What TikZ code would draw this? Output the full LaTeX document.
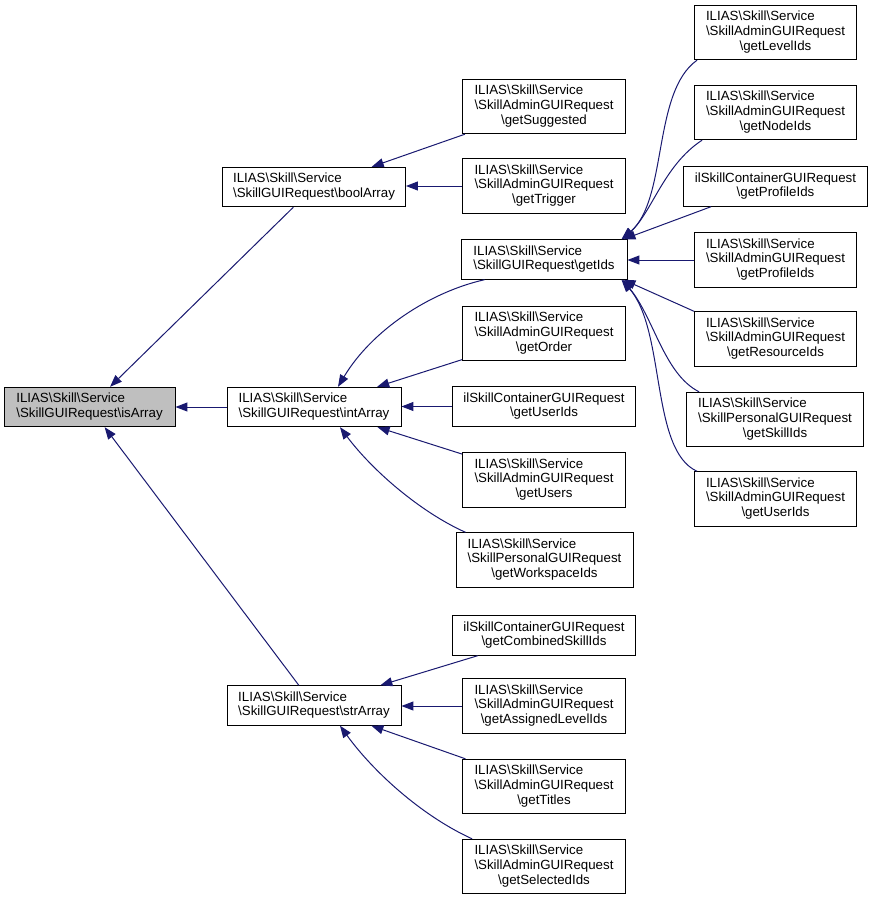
\documentclass[tikz,border=0pt]{standalone}
\usepackage{fontspec}
\setmainfont{Liberation Sans}
\usetikzlibrary{arrows.meta}
\definecolor{edgeblue}{HTML}{191970}
\definecolor{selgray}{HTML}{BFBFBF}
\newcommand{\bsl}{\textbackslash{}}
\newcommand{\dlab}[2]{\begin{tabular}{@{}l@{}}#1\\\multicolumn{1}{@{}c@{}}{#2}\end{tabular}}
\renewcommand{\arraystretch}{1}
\begin{document}
\begin{tikzpicture}[x=1pt,y=-1pt,
  box/.style={draw=black,line width=0.9pt,fill=white,inner sep=0pt,align=center,
    font=\fontsize{13.3}{14.6}\selectfont},
  two/.style={box,minimum height=39.5pt},
  three/.style={box,minimum height=54.5pt},
  edge/.style={draw=edgeblue,line width=1pt,-{Triangle[length=12pt,width=9pt]}}]
\useasboundingbox (0,0) rectangle (872,900);
% left column
\node[two,fill=selgray,minimum width=171pt] (isArray) at (89.5,407) {\dlab{ILIAS\bsl Skill\bsl Service}{\bsl SkillGUIRequest\bsl isArray}};
\node[two,minimum width=183pt] (boolArray) at (314,187) {\dlab{ILIAS\bsl Skill\bsl Service}{\bsl SkillGUIRequest\bsl boolArray}};
\node[two,minimum width=174pt] (intArray) at (314,407) {\dlab{ILIAS\bsl Skill\bsl Service}{\bsl SkillGUIRequest\bsl intArray}};
\node[two,minimum width=174pt] (strArray) at (314,705.5) {\dlab{ILIAS\bsl Skill\bsl Service}{\bsl SkillGUIRequest\bsl strArray}};
% middle column
\node[three,minimum width=163pt] (getSuggested) at (544,106.5) {\dlab{ILIAS\bsl Skill\bsl Service\\\bsl SkillAdminGUIRequest}{\bsl getSuggested}};
\node[three,minimum width=163pt] (getTrigger) at (544,186) {\dlab{ILIAS\bsl Skill\bsl Service\\\bsl SkillAdminGUIRequest}{\bsl getTrigger}};
\node[two,minimum width=166pt] (getIds) at (544,259.5) {\dlab{ILIAS\bsl Skill\bsl Service}{\bsl SkillGUIRequest\bsl getIds}};
\node[three,minimum width=163pt] (getOrder) at (544,333.5) {\dlab{ILIAS\bsl Skill\bsl Service\\\bsl SkillAdminGUIRequest}{\bsl getOrder}};
\node[two,minimum width=183pt] (cUserIds) at (544,406.5) {\dlab{ilSkillContainerGUIRequest}{\bsl getUserIds}};
\node[three,minimum width=163pt] (getUsers) at (544,480) {\dlab{ILIAS\bsl Skill\bsl Service\\\bsl SkillAdminGUIRequest}{\bsl getUsers}};
\node[three,minimum width=177pt] (getWorkspaceIds) at (544.5,560) {\dlab{ILIAS\bsl Skill\bsl Service\\\bsl SkillPersonalGUIRequest}{\bsl getWorkspaceIds}};
\node[two,minimum width=183pt] (getCombined) at (544,635.5) {\dlab{ilSkillContainerGUIRequest}{\bsl getCombinedSkillIds}};
\node[three,minimum width=163pt] (getAssigned) at (544,706) {\dlab{ILIAS\bsl Skill\bsl Service\\\bsl SkillAdminGUIRequest}{\bsl getAssignedLevelIds}};
\node[three,minimum width=163pt] (getTitles) at (544,786.5) {\dlab{ILIAS\bsl Skill\bsl Service\\\bsl SkillAdminGUIRequest}{\bsl getTitles}};
\node[three,minimum width=163pt] (getSelected) at (544,866.5) {\dlab{ILIAS\bsl Skill\bsl Service\\\bsl SkillAdminGUIRequest}{\bsl getSelectedIds}};
% right column
\node[three,minimum width=162pt] (getLevelIds) at (775.5,32.5) {\dlab{ILIAS\bsl Skill\bsl Service\\\bsl SkillAdminGUIRequest}{\bsl getLevelIds}};
\node[three,minimum width=162pt] (getNodeIds) at (775.5,112.5) {\dlab{ILIAS\bsl Skill\bsl Service\\\bsl SkillAdminGUIRequest}{\bsl getNodeIds}};
\node[two,minimum width=184pt] (cProfileIds) at (775.5,186.5) {\dlab{ilSkillContainerGUIRequest}{\bsl getProfileIds}};
\node[three,minimum width=162pt] (aProfileIds) at (775.5,260) {\dlab{ILIAS\bsl Skill\bsl Service\\\bsl SkillAdminGUIRequest}{\bsl getProfileIds}};
\node[three,minimum width=162pt] (getResourceIds) at (775.5,339) {\dlab{ILIAS\bsl Skill\bsl Service\\\bsl SkillAdminGUIRequest}{\bsl getResourceIds}};
\node[three,minimum width=177pt] (getSkillIds) at (775,419.5) {\dlab{ILIAS\bsl Skill\bsl Service\\\bsl SkillPersonalGUIRequest}{\bsl getSkillIds}};
\node[three,minimum width=162pt] (aUserIds) at (775.5,499) {\dlab{ILIAS\bsl Skill\bsl Service\\\bsl SkillAdminGUIRequest}{\bsl getUserIds}};
% edges to isArray
\draw[edge] (boolArray) -- (isArray);
\draw[edge] (intArray.west) -- (intArray.west -| isArray.east);
\draw[edge] (strArray) -- (isArray);
% edges to boolArray
\draw[edge] (getSuggested) -- (boolArray);
\draw[edge] (getTrigger.west) -- (getTrigger.west -| boolArray.east);
% edges to intArray
\draw[edge] ([xshift=24pt]getIds.south west) .. controls (430,292) and (372,330) .. ([xshift=24pt]intArray.north);
\draw[edge] (getOrder) -- (intArray);
\draw[edge] (cUserIds.west) -- (cUserIds.west -| intArray.east);
\draw[edge] (getUsers) -- (intArray);
\draw[edge] ([xshift=10pt]getWorkspaceIds.north west) .. controls (420,512) and (372,470) .. ([xshift=26pt]intArray.south);
% edges to strArray
\draw[edge] (getCombined) -- (strArray);
\draw[edge] (getAssigned.west) -- (getAssigned.west -| strArray.east);
\draw[edge] (getTitles) -- (strArray);
\draw[edge] ([xshift=10pt]getSelected.north west) .. controls (420,815) and (372,770) .. ([xshift=26pt]strArray.south);
% edges to getIds
\draw[edge] ([xshift=3pt]getLevelIds.south west) .. controls (652,92) and (668,200) .. ([xshift=-6pt]getIds.north east);
\draw[edge] ([xshift=8pt]getNodeIds.south west) .. controls (664,165) and (652,212) .. ([xshift=-5pt]getIds.north east);
\draw[edge] ([xshift=28pt]cProfileIds.south west) -- ([xshift=-4pt]getIds.north east);
\draw[edge] (aProfileIds.west) -- (aProfileIds.west -| getIds.east);
\draw[edge] (getResourceIds.north west) -- ([xshift=-4pt]getIds.south east);
\draw[edge] ([xshift=13pt]getSkillIds.north west) .. controls (664,374) and (654,318) .. ([xshift=-5pt]getIds.south east);
\draw[edge] ([xshift=3pt]aUserIds.north west) .. controls (650,450) and (666,330) .. ([xshift=-6pt]getIds.south east);
\end{tikzpicture}
\end{document}
